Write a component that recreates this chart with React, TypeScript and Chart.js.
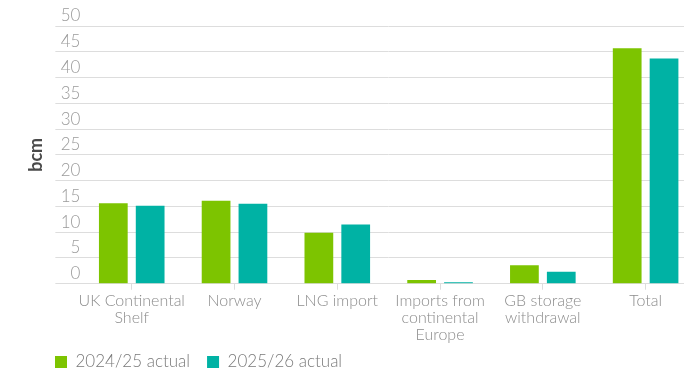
import React, { useEffect, useRef } from "react";
import { Chart, registerables } from "chart.js";

Chart.register(...registerables);

const categories: (string | string[])[] = [
  ["UK Continental", "Shelf"],
  "Norway",
  "LNG import",
  ["Imports from", "continental", "Europe"],
  ["GB storage", "withdrawal"],
  "Total",
];
const actual2024 = [15.6, 16.1, 9.9, 0.7, 3.6, 45.7];
const actual2025 = [15.1, 15.5, 11.5, 0.3, 2.3, 43.7];
const seriesNames = ["2024/25 actual", "2025/26 actual"];
const seriesColors = ["#7dc400", "#00b2a4"];
const yMin = 0;
const yMax = 50;
const yStep = 5;
const yTitle = "bcm";

const FONT = "Lato, 'Open Sans', sans-serif";

// lets the multi-line category labels run below the axis box without being clipped
const labelRoom = {
  id: "labelRoom",
  afterLayout(chart: any) {
    const x = chart.scales.x;
    if (x) x.bottom = x.top + 75;
  },
};

export default function App() {
  const ref = useRef<HTMLCanvasElement | null>(null);

  useEffect(() => {
    if (!ref.current) return;
    const chart = new Chart(ref.current, {
      type: "bar",
      data: {
        labels: categories,
        datasets: [
          {
            label: seriesNames[0],
            data: actual2024,
            backgroundColor: seriesColors[0],
            borderWidth: 0,
          },
          {
            label: seriesNames[1],
            data: actual2025,
            backgroundColor: seriesColors[1],
            borderWidth: 0,
          },
        ],
      },
      plugins: [labelRoom],
      options: {
        animation: false,
        responsive: false,
        devicePixelRatio: 1,
        datasets: {
          bar: { barPercentage: 0.78, categoryPercentage: 0.717 },
        },
        layout: { padding: { left: 38, top: 26, right: 0, bottom: -9.5 } },
        plugins: {
          tooltip: { enabled: false },
          legend: {
            position: "bottom",
            align: "start",
            labels: {
              boxWidth: 12,
              boxHeight: 12,
              padding: 17,
              color: "#7a7a7a",
              font: { family: FONT, size: 17, weight: 300 },
            },
          },
        },
        scales: {
          x: {
            grid: {
              offset: false,
              drawOnChartArea: false,
              drawTicks: true,
              tickLength: 6,
              color: "#dddddd",
              lineWidth: 1,
            },
            border: { display: true, color: "#dddddd" },
            ticks: {
              color: "#8c8c8c",
              padding: 3,
              maxRotation: 0,
              autoSkip: false,
              font: { family: FONT, size: 16, weight: 300, lineHeight: 1.05 },
            },
            afterFit: (scale: any) => {
              scale.height = 52.8;
            },
          },
          y: {
            min: yMin,
            max: yMax,
            ticks: {
              stepSize: yStep,
              color: "#9a9a9a",
              padding: -25,
              labelOffset: -10,
              font: { family: FONT, size: 17, weight: 300 },
            },
            grid: {
              color: "#dddddd",
              lineWidth: 1,
              drawTicks: true,
              tickLength: 25,
            },
            border: { display: false },
            title: {
              display: true,
              text: yTitle,
              color: "#4a4a4a",
              padding: { top: -12.5, bottom: 0 },
              font: { family: FONT, size: 18, weight: "bold", lineHeight: 1.2 },
            },
            afterFit: (scale: any) => {
              scale.width = 42.35;
            },
          },
        },
      },
    });
    return () => chart.destroy();
  }, []);

  return (
    <div
      style={{
        position: "absolute",
        left: 0,
        top: 0,
        width: 684,
        height: 371,
        overflow: "hidden",
        background: "#ffffff",
      }}
    >
      <canvas ref={ref} width={697} height={371} style={{ display: "block" }} />
    </div>
  );
}
